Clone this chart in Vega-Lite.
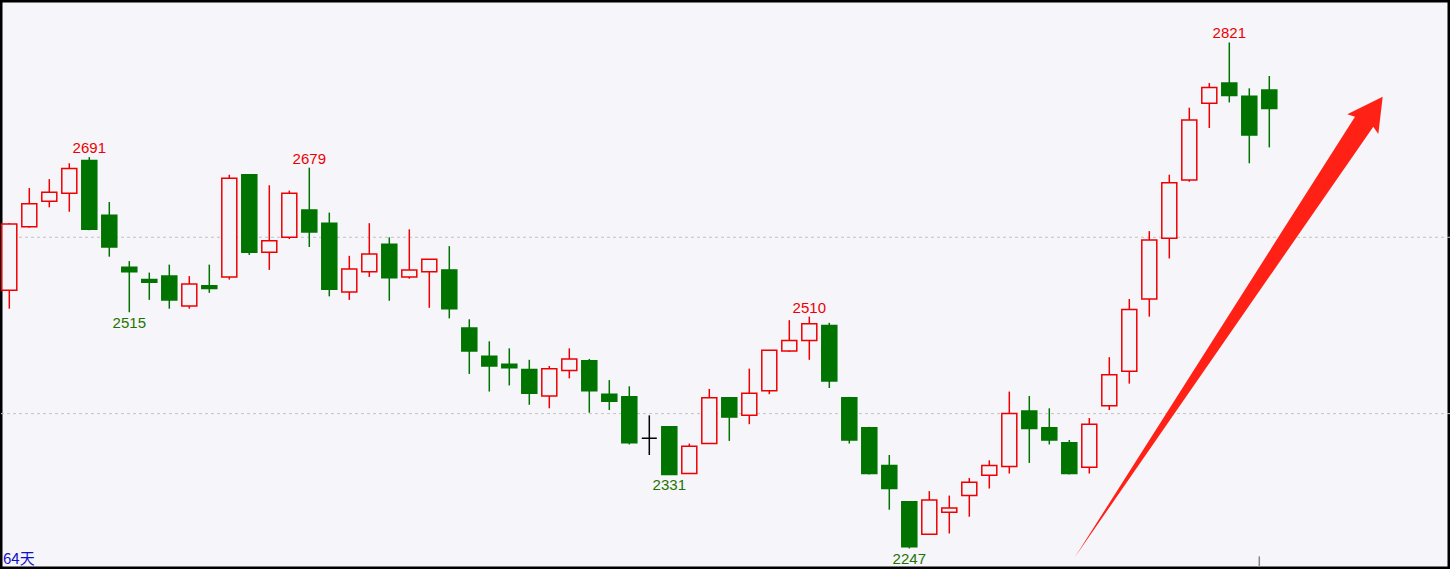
{
  "$schema": "https://vega.github.io/schema/vega-lite/v6.json",
  "width": 1450,
  "height": 569,
  "autosize": {"type": "none"},
  "padding": 0,
  "background": "#f5f5fa",
  "config": {"view": {"stroke": "#000000", "strokeWidth": 5, "fill": "#f5f5fa"}, "scale": {"continuousPadding": 0}},
  "datasets": {
    "k": [
      {"i": 0, "o": 2540, "h": 2616, "l": 2519, "c": 2615},
      {"i": 1, "o": 2612, "h": 2656, "l": 2611, "c": 2638},
      {"i": 2, "o": 2641, "h": 2666, "l": 2634, "c": 2651},
      {"i": 3, "o": 2650, "h": 2684, "l": 2629, "c": 2678},
      {"i": 4, "o": 2687, "h": 2691, "l": 2608, "c": 2609},
      {"i": 5, "o": 2625, "h": 2640, "l": 2578, "c": 2589},
      {"i": 6, "o": 2566, "h": 2573, "l": 2515, "c": 2561},
      {"i": 7, "o": 2552, "h": 2560, "l": 2529, "c": 2549},
      {"i": 8, "o": 2556, "h": 2569, "l": 2519, "c": 2529},
      {"i": 9, "o": 2522, "h": 2556, "l": 2519, "c": 2547},
      {"i": 10, "o": 2545, "h": 2569, "l": 2537, "c": 2542},
      {"i": 11, "o": 2555, "h": 2671, "l": 2552, "c": 2667},
      {"i": 12, "o": 2671, "h": 2671, "l": 2580, "c": 2583},
      {"i": 13, "o": 2583, "h": 2659, "l": 2563, "c": 2596},
      {"i": 14, "o": 2600, "h": 2653, "l": 2598, "c": 2650},
      {"i": 15, "o": 2631, "h": 2679, "l": 2589, "c": 2606},
      {"i": 16, "o": 2616, "h": 2628, "l": 2533, "c": 2541},
      {"i": 17, "o": 2538, "h": 2579, "l": 2529, "c": 2564},
      {"i": 18, "o": 2561, "h": 2616, "l": 2555, "c": 2581},
      {"i": 19, "o": 2592, "h": 2600, "l": 2528, "c": 2554},
      {"i": 20, "o": 2555, "h": 2609, "l": 2553, "c": 2563},
      {"i": 21, "o": 2561, "h": 2575, "l": 2520, "c": 2575},
      {"i": 22, "o": 2563, "h": 2590, "l": 2508, "c": 2519},
      {"i": 23, "o": 2497, "h": 2507, "l": 2445, "c": 2471},
      {"i": 24, "o": 2465, "h": 2482, "l": 2425, "c": 2454},
      {"i": 25, "o": 2456, "h": 2474, "l": 2432, "c": 2452},
      {"i": 26, "o": 2450, "h": 2461, "l": 2410, "c": 2423},
      {"i": 27, "o": 2420, "h": 2454, "l": 2406, "c": 2451},
      {"i": 28, "o": 2449, "h": 2474, "l": 2440, "c": 2462},
      {"i": 29, "o": 2460, "h": 2462, "l": 2401, "c": 2426},
      {"i": 30, "o": 2422, "h": 2438, "l": 2404, "c": 2414},
      {"i": 31, "o": 2419, "h": 2431, "l": 2365, "c": 2367},
      {"i": 32, "o": 2372, "h": 2398, "l": 2353, "c": 2372},
      {"i": 33, "o": 2385, "h": 2385, "l": 2331, "c": 2331},
      {"i": 34, "o": 2332, "h": 2366, "l": 2332, "c": 2363},
      {"i": 35, "o": 2366, "h": 2428, "l": 2366, "c": 2418},
      {"i": 36, "o": 2418, "h": 2418, "l": 2369, "c": 2396},
      {"i": 37, "o": 2398, "h": 2451, "l": 2388, "c": 2423},
      {"i": 38, "o": 2426, "h": 2472, "l": 2422, "c": 2472},
      {"i": 39, "o": 2471, "h": 2506, "l": 2470, "c": 2483},
      {"i": 40, "o": 2483, "h": 2510, "l": 2461, "c": 2502},
      {"i": 41, "o": 2500, "h": 2503, "l": 2429, "c": 2437},
      {"i": 42, "o": 2418, "h": 2419, "l": 2366, "c": 2370},
      {"i": 43, "o": 2384, "h": 2385, "l": 2331, "c": 2332},
      {"i": 44, "o": 2341, "h": 2353, "l": 2291, "c": 2315},
      {"i": 45, "o": 2300, "h": 2300, "l": 2247, "c": 2249},
      {"i": 46, "o": 2263, "h": 2312, "l": 2263, "c": 2302},
      {"i": 47, "o": 2288, "h": 2307, "l": 2264, "c": 2293},
      {"i": 48, "o": 2307, "h": 2327, "l": 2283, "c": 2322},
      {"i": 49, "o": 2330, "h": 2347, "l": 2315, "c": 2341},
      {"i": 50, "o": 2340, "h": 2425, "l": 2332, "c": 2400},
      {"i": 51, "o": 2403, "h": 2420, "l": 2344, "c": 2383},
      {"i": 52, "o": 2384, "h": 2406, "l": 2365, "c": 2370},
      {"i": 53, "o": 2367, "h": 2370, "l": 2331, "c": 2332},
      {"i": 54, "o": 2339, "h": 2395, "l": 2332, "c": 2388},
      {"i": 55, "o": 2409, "h": 2464, "l": 2404, "c": 2444},
      {"i": 56, "o": 2448, "h": 2530, "l": 2434, "c": 2518},
      {"i": 57, "o": 2530, "h": 2607, "l": 2510, "c": 2597},
      {"i": 58, "o": 2599, "h": 2671, "l": 2576, "c": 2662},
      {"i": 59, "o": 2665, "h": 2747, "l": 2663, "c": 2733},
      {"i": 60, "o": 2752, "h": 2775, "l": 2724, "c": 2770},
      {"i": 61, "o": 2775, "h": 2821, "l": 2753, "c": 2761},
      {"i": 62, "o": 2760, "h": 2769, "l": 2684, "c": 2716},
      {"i": 63, "o": 2767, "h": 2783, "l": 2702, "c": 2746}
    ],
    "grid": [{"p": 2400}, {"p": 2600}],
    "lab": [
      {"i": 4, "p": 2691, "t": "2691", "kind": "high"},
      {"i": 15, "p": 2679, "t": "2679", "kind": "high"},
      {"i": 40, "p": 2510, "t": "2510", "kind": "high"},
      {"i": 61, "p": 2821, "t": "2821", "kind": "high"},
      {"i": 6, "p": 2515, "t": "2515", "kind": "low"},
      {"i": 33, "p": 2331, "t": "2331", "kind": "low"},
      {"i": 45, "p": 2247, "t": "2247", "kind": "low"}
    ],
    "arrow": [{"i": 68.67, "p": 2759.5}],
    "tick": [{"i": 62.5, "p1": 2226, "p2": 2238}],
    "note": [{"i": -0.465, "p": 2229.4, "t": "64天"}]
  },
  "layer": [
    {
      "data": {"name": "grid"},
      "mark": {"type": "rule", "color": "#c4c4c4", "strokeDash": [3, 3], "strokeWidth": 1},
      "encoding": {
        "y": {"field": "p", "type": "quantitative", "scale": {"domain": [2223.7, 2869.2], "nice": false, "zero": false, "padding": 0}, "axis": null}
      }
    },
    {
      "data": {"name": "k"},
      "mark": {"type": "rule", "strokeWidth": 1.5},
      "encoding": {
        "x": {"field": "i", "type": "quantitative", "scale": {"domain": [-0.465, 72.035], "nice": false, "zero": false, "padding": 0}, "axis": null},
        "y": {"field": "l", "type": "quantitative", "scale": {"domain": [2223.7, 2869.2], "nice": false, "zero": false, "padding": 0}, "axis": null},
        "y2": {"field": "h"},
        "color": {"condition": [{"test": "datum.c > datum.o", "value": "#ee0000"}, {"test": "datum.c < datum.o", "value": "#007300"}], "value": "#000000"}
      }
    },
    {
      "data": {"name": "k"},
      "mark": {"type": "bar", "width": 15, "strokeWidth": 1.5, "opacity": 1},
      "encoding": {
        "x": {"field": "i", "type": "quantitative", "scale": {"domain": [-0.465, 72.035], "nice": false, "zero": false, "padding": 0}, "axis": null},
        "y": {"field": "o", "type": "quantitative", "scale": {"domain": [2223.7, 2869.2], "nice": false, "zero": false, "padding": 0}, "axis": null},
        "y2": {"field": "c"},
        "fill": {"condition": [{"test": "datum.c > datum.o", "value": "#f5f5fa"}, {"test": "datum.c < datum.o", "value": "#007300"}], "value": "#000000"},
        "stroke": {"condition": [{"test": "datum.c > datum.o", "value": "#ee0000"}, {"test": "datum.c < datum.o", "value": "#007300"}], "value": "#000000"}
      }
    },
    {
      "data": {"name": "lab"},
      "transform": [{"filter": "datum.kind == 'high'"}],
      "mark": {"type": "text", "font": "Liberation Sans", "fontSize": 15, "color": "#ee0000", "baseline": "alphabetic", "align": "center", "dy": -4},
      "encoding": {
        "x": {"field": "i", "type": "quantitative", "scale": {"domain": [-0.465, 72.035], "nice": false, "zero": false, "padding": 0}, "axis": null},
        "y": {"field": "p", "type": "quantitative", "scale": {"domain": [2223.7, 2869.2], "nice": false, "zero": false, "padding": 0}, "axis": null},
        "text": {"field": "t"}
      }
    },
    {
      "data": {"name": "lab"},
      "transform": [{"filter": "datum.kind == 'low'"}],
      "mark": {"type": "text", "font": "Liberation Sans", "fontSize": 15, "color": "#1f7400", "baseline": "alphabetic", "align": "center", "dy": 15.5},
      "encoding": {
        "x": {"field": "i", "type": "quantitative", "scale": {"domain": [-0.465, 72.035], "nice": false, "zero": false, "padding": 0}, "axis": null},
        "y": {"field": "p", "type": "quantitative", "scale": {"domain": [2223.7, 2869.2], "nice": false, "zero": false, "padding": 0}, "axis": null},
        "text": {"field": "t"}
      }
    },
    {
      "data": {"name": "arrow"},
      "mark": {"type": "point", "shape": "M0,0L-4.4,37.3L-9.4,30L-307.7,460.3L-27.7,20L-35.4,17.6Z", "size": 4, "filled": true, "fill": "#ff2016", "opacity": 1, "strokeWidth": 0},
      "encoding": {
        "x": {"field": "i", "type": "quantitative", "scale": {"domain": [-0.465, 72.035], "nice": false, "zero": false, "padding": 0}, "axis": null},
        "y": {"field": "p", "type": "quantitative", "scale": {"domain": [2223.7, 2869.2], "nice": false, "zero": false, "padding": 0}, "axis": null}
      }
    },
    {
      "data": {"name": "tick"},
      "mark": {"type": "rule", "color": "#888888", "strokeWidth": 1.5},
      "encoding": {
        "x": {"field": "i", "type": "quantitative", "scale": {"domain": [-0.465, 72.035], "nice": false, "zero": false, "padding": 0}, "axis": null},
        "y": {"field": "p1", "type": "quantitative", "scale": {"domain": [2223.7, 2869.2], "nice": false, "zero": false, "padding": 0}, "axis": null},
        "y2": {"field": "p2"}
      }
    },
    {
      "data": {"name": "note"},
      "mark": {"type": "text", "font": "Noto Sans CJK SC", "fontSize": 15, "color": "#1010cc", "baseline": "alphabetic", "align": "left", "dx": 3},
      "encoding": {
        "x": {"field": "i", "type": "quantitative", "scale": {"domain": [-0.465, 72.035], "nice": false, "zero": false, "padding": 0}, "axis": null},
        "y": {"field": "p", "type": "quantitative", "scale": {"domain": [2223.7, 2869.2], "nice": false, "zero": false, "padding": 0}, "axis": null},
        "text": {"field": "t"}
      }
    }
  ]
}
